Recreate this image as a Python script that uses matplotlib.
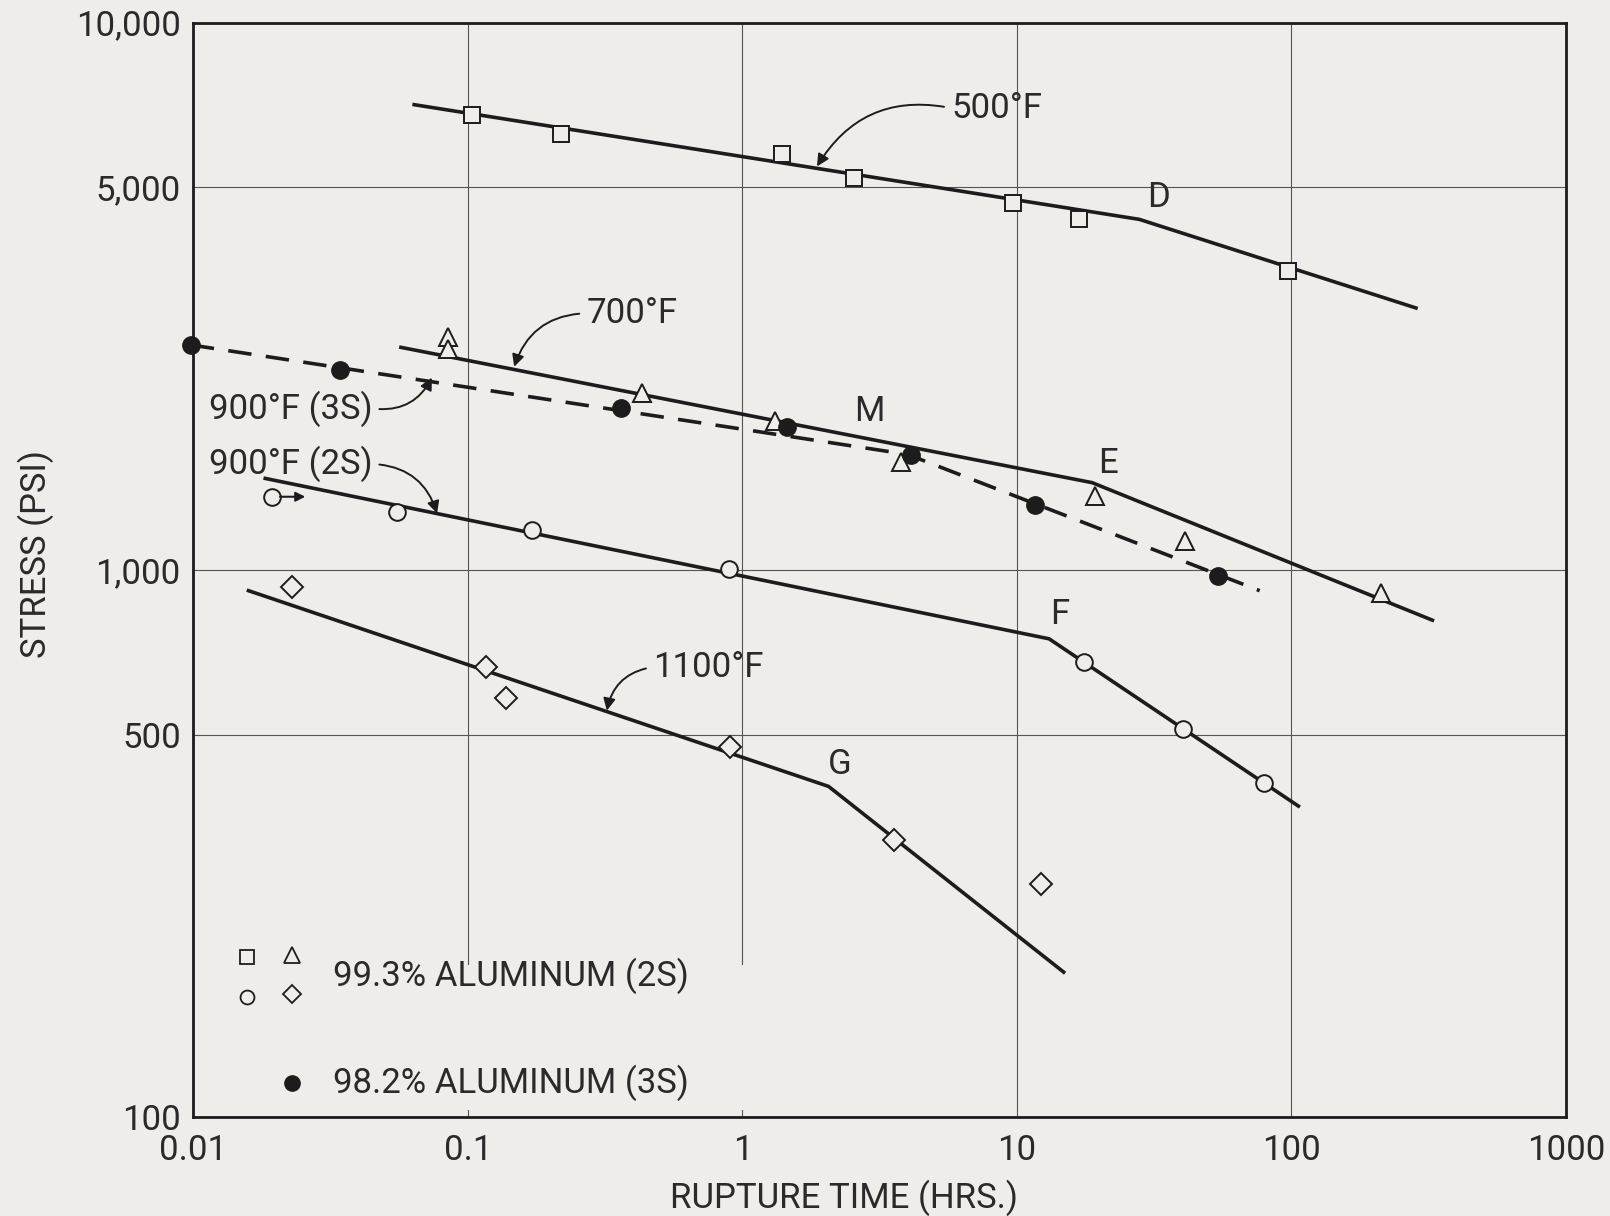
import numpy as np
import matplotlib as mpl
mpl.use('Agg')
import matplotlib.pyplot as plt
from matplotlib.patches import Rectangle

mpl.rcParams['font.family'] = ['Roboto', 'DejaVu Sans']
mpl.rcParams['font.weight'] = 'normal'

BG = '#efede9'
INK = '#1c1c1c'
TXT = '#2a2a2a'
FS = 25

# ---- data (rupture time in hrs, stress in psi) ----
# 500 F (curve D), squares
d_pts_t = [0.104, 0.219, 1.40, 2.56, 9.66, 16.9, 97.5]
d_pts_s = [6780, 6270, 5750, 5190, 4680, 4380, 3515]
d_line_t = [0.0638, 27.9, 284]
d_line_s = [7080, 4370, 3010]

# 700 F (curve E), triangles
e_pts_t = [0.085, 0.085, 0.430, 1.32, 3.78, 19.2, 41.1, 212]
e_pts_s = [2666, 2530, 2104, 1871, 1574, 1364, 1129, 906]
e_line_t = [0.0571, 18.8, 326]
e_line_s = [2550, 1443, 809]

# 900 F 3S (curve M), filled circles, dashed
m_pts_t = [0.0098, 0.0343, 0.361, 1.46, 4.11, 11.6, 54.2]
m_pts_s = [2576, 2323, 1977, 1822, 1622, 1313, 975]
m_line_t = [0.0098, 4.0, 76.6]
m_line_s = [2576, 1625, 916]

# 900 F 2S (curve F), open circles
f_pts_t = [0.0193, 0.0552, 0.172, 0.894, 17.5, 40.1, 79.3]
f_pts_s = [1360, 1273, 1183, 1004, 678, 512, 407]
f_line_t = [0.0183, 13.1, 106]
f_line_s = [1469, 748, 370]

# 1100 F (curve G), diamonds
g_pts_t = [0.0229, 0.117, 0.138, 0.901, 3.56, 12.2]
g_pts_s = [929, 663, 583, 475, 321, 267]
g_line_t = [0.0159, 2.06, 14.8]
g_line_s = [916, 402, 184]

x_ticks = [0.01, 0.1, 1, 10, 100, 1000]
x_labels = ['0.01', '0.1', '1', '10', '100', '1000']
y_ticks = [100, 500, 1000, 5000, 10000]
y_labels = ['100', '500', '1,000', '5,000', '10,000']

fig = plt.figure(figsize=(16.1, 12.16), dpi=100, facecolor=BG)
ax = fig.add_axes([0.120, 0.0814, 0.8527, 0.9000])
ax.set_facecolor(BG)
ax.set_xscale('log')
ax.set_yscale('log')
ax.set_xlim(0.01, 1000)
ax.set_ylim(100, 10000)

ax.set_xticks(x_ticks)
ax.set_xticklabels(x_labels)
ax.set_yticks(y_ticks)
ax.set_yticklabels(y_labels)
ax.minorticks_off()
ax.tick_params(length=0, labelsize=FS, colors=TXT)
ax.tick_params(axis='x', pad=12)
ax.tick_params(axis='y', pad=9)
ax.set_axisbelow(True)
ax.grid(True, color='#555555', lw=0.8)
for sp in ax.spines.values():
    sp.set_linewidth(2.0)
    sp.set_color(INK)

# blank patch behind the legend block (grid is broken there)
ax.add_patch(Rectangle((0.028, 0.006), 0.415, 0.133, transform=ax.transAxes,
                       facecolor=BG, edgecolor='none', zorder=1))

lw = 2.6
mk = dict(mfc=BG, mec=INK, mew=1.4, ls='none', zorder=4, clip_on=False)

ax.plot(d_line_t, d_line_s, color=INK, lw=lw, zorder=3)
ax.plot(d_pts_t, d_pts_s, marker='s', ms=11.5, **mk)

ax.plot(e_line_t, e_line_s, color=INK, lw=lw, zorder=3)
ax.plot(e_pts_t, e_pts_s, marker='^', ms=13, **mk)

ax.plot(m_line_t, m_line_s, color=INK, lw=lw, zorder=3, ls=(0, (6.5, 4)),
        clip_on=False)
ax.plot(m_pts_t, m_pts_s, marker='o', ms=12.5, mfc=INK, mec=INK, ls='none',
        zorder=4, clip_on=False)

ax.plot(f_line_t, f_line_s, color=INK, lw=lw, zorder=3)
ax.plot(f_pts_t, f_pts_s, marker='o', ms=12, **mk)

ax.plot(g_line_t, g_line_s, color=INK, lw=lw, zorder=3)
ax.plot(g_pts_t, g_pts_s, marker='D', ms=11, **mk)

# small arrow on the first 2S circle (test still running)
ax.annotate('', xy=(0.0256, 1360), xytext=(0.0207, 1360),
            arrowprops=dict(arrowstyle='-|>', color=INK, lw=1.5,
                            mutation_scale=14, shrinkA=0, shrinkB=0), zorder=5)

# curve labels with arrows
tkw = dict(fontsize=FS, color=TXT, va='center')
akw = dict(arrowstyle='-|>', color=INK, lw=1.4, mutation_scale=18,
           shrinkA=3, shrinkB=0)

ax.annotate('500°F', xy=(1.87, 5460), xytext=(5.75, 6980), ha='left',
            arrowprops=dict(connectionstyle='arc3,rad=0.35', relpos=(0, 0.5),
                            **akw), **tkw)
ax.annotate('700°F', xy=(0.1476, 2350), xytext=(0.270, 2943), ha='left',
            arrowprops=dict(connectionstyle='arc3,rad=0.35', relpos=(0, 0.5),
                            **akw), **tkw)
ax.annotate('900°F (3S)', xy=(0.0740, 2245), xytext=(0.0114, 1972), ha='left',
            arrowprops=dict(connectionstyle='arc3,rad=0.35', relpos=(1, 0.5),
                            **akw), **tkw)
ax.annotate('900°F (2S)', xy=(0.0773, 1268), xytext=(0.0114, 1561), ha='left',
            arrowprops=dict(connectionstyle='arc3,rad=-0.35', relpos=(1, 0.5),
                            **akw), **tkw)
ax.annotate('1100°F', xy=(0.321, 553), xytext=(0.472, 664), ha='left',
            arrowprops=dict(connectionstyle='arc3,rad=0.35', relpos=(0, 0.5),
                            **akw), **tkw)

for lab, t, s in [('D', 32.9, 4800), ('M', 2.91, 1945), ('E', 21.4, 1561),
                  ('F', 14.3, 830), ('G', 2.27, 441)]:
    ax.text(t, s, lab, ha='center', **tkw)

# legend block
lg = dict(transform=ax.transAxes, ls='none', zorder=4, clip_on=False)
ax.plot([0.039], [0.146], marker='s', ms=10, mfc=BG, mec=INK, mew=1.3, **lg)
ax.plot([0.072], [0.148], marker='^', ms=11, mfc=BG, mec=INK, mew=1.3, **lg)
ax.plot([0.039], [0.110], marker='o', ms=10, mfc=BG, mec=INK, mew=1.3, **lg)
ax.plot([0.072], [0.112], marker='D', ms=9, mfc=BG, mec=INK, mew=1.3, **lg)
ax.plot([0.072], [0.031], marker='o', ms=11, mfc=INK, mec=INK, **lg)
ax.text(0.102, 0.129, '99.3% ALUMINUM (2S)', transform=ax.transAxes,
        fontsize=FS, color=TXT, va='center', ha='left', zorder=5)
ax.text(0.102, 0.031, '98.2% ALUMINUM (3S)', transform=ax.transAxes,
        fontsize=FS, color=TXT, va='center', ha='left', zorder=5)

fig.text(0.524, 0.0150, 'RUPTURE TIME (HRS.)', fontsize=FS, color=TXT,
         ha='center', va='center')
fig.text(0.0225, 0.544, 'STRESS (PSI)', fontsize=FS, color=TXT,
         ha='center', va='center', rotation=90)

fig.savefig('out.png', dpi=100, facecolor=BG)
